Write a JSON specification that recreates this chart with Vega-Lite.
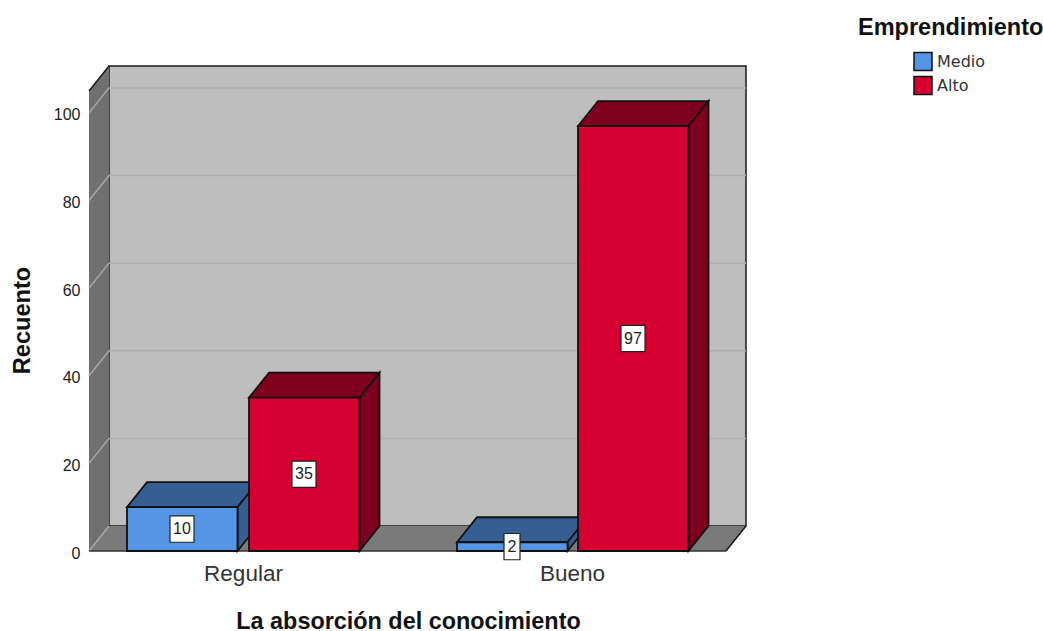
{
  "$schema": "https://vega.github.io/schema/vega-lite/v6.json",
  "width": 657, "height": 485,
  "autosize": {"type": "none"},
  "padding": {"left": 89, "top": 66, "right": 297, "bottom": 80},
  "background": "white",
  "datasets": {
    "barras": [
      {"categoria": "Regular", "serie": "Medio", "recuento": 10},
      {"categoria": "Regular", "serie": "Alto", "recuento": 35},
      {"categoria": "Bueno", "serie": "Medio", "recuento": 2},
      {"categoria": "Bueno", "serie": "Alto", "recuento": 97}
    ],
    "marcas": [{"marca": 0}, {"marca": 20}, {"marca": 40}, {"marca": 60}, {"marca": 80}, {"marca": 100}],
    "pared": [{"elemento": "fondo"}],
    "lateral": [{"v": 0}, {"v": 1}],
    "piso": [{"v": 0}, {"v": 1}, {"v": 2}, {"v": 3}]
  },
  "config": {"view": {"stroke": null}, "font": "Liberation Sans"},
  "resolve": {"scale": {"color": "independent"}, "axis": {"x": "independent", "y": "independent"}},
  "layer": [
    {
      "data": {"name": "pared"},
      "mark": {"type": "rect", "fill": "#BEBEBE", "stroke": "#1a1a1a", "strokeWidth": 1.5},
      "encoding": {
        "x": {"datum": 20, "type": "quantitative", "scale": {"domain": [0, 657], "nice": false, "zero": false},
          "axis": {"values": [154, 483], "labelExpr": "datum.value < 300 ? 'Regular' : 'Bueno'", "ticks": false, "domain": false, "grid": false,
            "labelFont": "Liberation Sans", "labelFontSize": 22.5, "labelColor": "#333333", "labelPadding": 11.5,
            "title": "La absorción del conocimiento", "titleFont": "Liberation Sans", "titleFontSize": 23.4, "titleFontWeight": "bold", "titleColor": "#111111",
            "titleX": 319, "titleY": 70, "titleBaseline": "middle", "titleAnchor": "middle", "titleAlign": "center"}},
        "x2": {"datum": 657},
        "y": {"datum": 5.7, "type": "quantitative", "scale": {"domain": [0, 110.7], "nice": false, "zero": false},
          "axis": {"values": [0, 20, 40, 60, 80, 100], "ticks": false, "domain": false, "grid": false,
            "labelFont": "Liberation Sans", "labelFontSize": 16, "labelColor": "#222222", "labelPadding": 9, "labelOffset": 2,
            "title": "Recuento", "titleFont": "Liberation Sans", "titleFontSize": 23.6, "titleFontWeight": "bold", "titleColor": "#111111",
            "titleX": -67, "titleY": 254, "titleBaseline": "middle", "titleAnchor": "middle", "titleAlign": "center"}},
        "y2": {"datum": 110.7}
      }
    },
    {
      "data": {"name": "lateral"},
      "transform": [
        {"calculate": "20 * datum.v", "as": "xp"},
        {"calculate": "5.7 * datum.v", "as": "lo"},
        {"calculate": "105.0 + 5.7 * datum.v", "as": "hi"}
      ],
      "mark": {"type": "area", "fill": "#707070", "orient": "vertical"},
      "encoding": {
        "x": {"field": "xp", "type": "quantitative", "axis": null},
        "y": {"field": "lo", "type": "quantitative", "axis": null},
        "y2": {"field": "hi"}
      }
    },
    {
      "data": {"name": "piso"},
      "transform": [
        {"calculate": "[0, 20, 637, 657][datum.v]", "as": "xp"},
        {"calculate": "[0, 0, 0, 5.7][datum.v]", "as": "lo"},
        {"calculate": "[0, 5.7, 5.7, 5.7][datum.v]", "as": "hi"}
      ],
      "mark": {"type": "area", "fill": "#7A7A7A", "orient": "vertical"},
      "encoding": {
        "x": {"field": "xp", "type": "quantitative", "axis": null},
        "y": {"field": "lo", "type": "quantitative", "axis": null},
        "y2": {"field": "hi"}
      }
    },
    {
      "data": {"name": "marcas"},
      "transform": [{"filter": "datum.marca > 0"}, {"calculate": "datum.marca + 5.7", "as": "atras"}],
      "mark": {"type": "rule", "stroke": "#AFAFAF", "strokeWidth": 1.5},
      "encoding": {
        "x": {"datum": 20, "type": "quantitative", "axis": null},
        "x2": {"datum": 657},
        "y": {"field": "atras", "type": "quantitative", "axis": null}
      }
    },
    {
      "data": {"name": "marcas"},
      "transform": [{"calculate": "datum.marca + 5.7", "as": "atras"}],
      "mark": {"type": "rule", "stroke": "#A8A8A8", "strokeWidth": 1.5},
      "encoding": {
        "x": {"datum": 0, "type": "quantitative", "axis": null},
        "x2": {"datum": 20},
        "y": {"field": "marca", "type": "quantitative", "axis": null},
        "y2": {"field": "atras"}
      }
    },
    {
      "data": {"name": "pared"},
      "mark": {"type": "rule", "stroke": "#1a1a1a", "strokeWidth": 1.5},
      "encoding": {
        "x": {"datum": 0, "type": "quantitative", "axis": null},
        "x2": {"datum": 20},
        "y": {"datum": 105.0, "type": "quantitative", "axis": null},
        "y2": {"datum": 110.7}
      }
    },
    {
      "data": {"name": "pared"},
      "mark": {"type": "rule", "stroke": "#333333", "strokeWidth": 1.5},
      "encoding": {
        "x": {"datum": 0, "type": "quantitative", "axis": null},
        "x2": {"datum": 637},
        "y": {"datum": 0, "type": "quantitative", "axis": null}
      }
    },
    {
      "data": {"name": "pared"},
      "mark": {"type": "rule", "stroke": "#1a1a1a", "strokeWidth": 1.5},
      "encoding": {
        "x": {"datum": 637, "type": "quantitative", "axis": null},
        "x2": {"datum": 657},
        "y": {"datum": 0, "type": "quantitative", "axis": null},
        "y2": {"datum": 5.7}
      }
    },
    {
      "data": {"name": "barras"},
      "transform": [
        {"calculate": "datum.categoria == 'Regular' ? (datum.serie == 'Medio' ? 38 : 160) : (datum.serie == 'Medio' ? 368 : 489)", "as": "x0"},
        {"calculate": "datum.categoria + datum.serie", "as": "clave"},
        {"calculate": "[0, 1, 2, 3]", "as": "v"},
        {"flatten": ["v"]},
        {"calculate": "[datum.x0, datum.x0 + 20, datum.x0 + 110.5, datum.x0 + 130.5][datum.v]", "as": "xp"},
        {"calculate": "[datum.recuento, datum.recuento, datum.recuento, datum.recuento + 5.7][datum.v]", "as": "lo"},
        {"calculate": "[datum.recuento, datum.recuento + 5.7, datum.recuento + 5.7, datum.recuento + 5.7][datum.v]", "as": "hi"}
      ],
      "mark": {"type": "area", "stroke": "#111111", "strokeWidth": 1.8, "orient": "vertical"},
      "encoding": {
        "x": {"field": "xp", "type": "quantitative", "axis": null},
        "y": {"field": "lo", "type": "quantitative", "axis": null},
        "y2": {"field": "hi"},
        "detail": {"field": "clave"},
        "color": {"field": "serie", "type": "nominal", "legend": null, "scale": {"domain": ["Medio", "Alto"], "range": ["#355F92", "#7F001E"]}}
      }
    },
    {
      "data": {"name": "barras"},
      "transform": [
        {"calculate": "datum.categoria == 'Regular' ? (datum.serie == 'Medio' ? 38 : 160) : (datum.serie == 'Medio' ? 368 : 489)", "as": "x0"},
        {"calculate": "datum.categoria + datum.serie", "as": "clave"},
        {"calculate": "[0, 1]", "as": "v"},
        {"flatten": ["v"]},
        {"calculate": "datum.x0 + 110.5 + 20 * datum.v", "as": "xp"},
        {"calculate": "5.7 * datum.v", "as": "lo"},
        {"calculate": "datum.recuento + 5.7 * datum.v", "as": "hi"}
      ],
      "mark": {"type": "area", "stroke": "#111111", "strokeWidth": 1.8, "orient": "vertical"},
      "encoding": {
        "x": {"field": "xp", "type": "quantitative", "axis": null},
        "y": {"field": "lo", "type": "quantitative", "axis": null},
        "y2": {"field": "hi"},
        "detail": {"field": "clave"},
        "color": {"field": "serie", "type": "nominal", "legend": null, "scale": {"domain": ["Medio", "Alto"], "range": ["#355F92", "#7F001E"]}}
      }
    },
    {
      "data": {"name": "barras"},
      "transform": [
        {"calculate": "datum.categoria == 'Regular' ? (datum.serie == 'Medio' ? 38 : 160) : (datum.serie == 'Medio' ? 368 : 489)", "as": "x0"},
        {"calculate": "datum.x0 + 110.5", "as": "x1"}
      ],
      "mark": {"type": "rect", "stroke": "#111111", "strokeWidth": 1.8},
      "encoding": {
        "x": {"field": "x0", "type": "quantitative", "axis": null},
        "x2": {"field": "x1"},
        "y": {"field": "recuento", "type": "quantitative", "axis": null},
        "y2": {"datum": 0},
        "color": {"field": "serie", "type": "nominal",
          "scale": {"domain": ["Medio", "Alto"], "range": ["#5495E6", "#D60030"]},
          "legend": {"orient": "none", "legendX": 769, "legendY": -50, "direction": "vertical",
            "title": "Emprendimiento", "titleLimit": 400, "titleFont": "Liberation Sans", "titleFontSize": 23.5, "titleFontWeight": "bold", "titleColor": "#111111", "titlePadding": 12,
            "labelFont": "DejaVu Sans", "labelFontSize": 16, "labelColor": "#333333", "labelOffset": 4,
            "symbolType": "square", "symbolSize": 324, "symbolStrokeColor": "#111111", "symbolStrokeWidth": 1.5, "symbolOpacity": 1, "symbolOffset": 55, "rowPadding": 0, "columnPadding": 0}}
      }
    },
    {
      "data": {"name": "barras"},
      "transform": [
        {"calculate": "(datum.categoria == 'Regular' ? (datum.serie == 'Medio' ? 38 : 160) : (datum.serie == 'Medio' ? 368 : 489)) + 55", "as": "xc"},
        {"calculate": "datum.recuento < 10 ? 8 : 12", "as": "mitad"},
        {"calculate": "datum.xc - datum.mitad", "as": "xa"},
        {"calculate": "datum.xc + datum.mitad", "as": "xb"},
        {"calculate": "datum.recuento / 2 - 3", "as": "ya"},
        {"calculate": "datum.recuento / 2 + 3", "as": "yb"}
      ],
      "mark": {"type": "rect", "fill": "white", "stroke": "#222222", "strokeWidth": 1.2},
      "encoding": {
        "x": {"field": "xa", "type": "quantitative", "axis": null},
        "x2": {"field": "xb"},
        "y": {"field": "ya", "type": "quantitative", "axis": null},
        "y2": {"field": "yb"}
      }
    },
    {
      "data": {"name": "barras"},
      "transform": [
        {"calculate": "(datum.categoria == 'Regular' ? (datum.serie == 'Medio' ? 38 : 160) : (datum.serie == 'Medio' ? 368 : 489)) + 55", "as": "xc"},
        {"calculate": "datum.recuento / 2", "as": "yc"}
      ],
      "mark": {"type": "text", "font": "Liberation Sans", "fontSize": 16, "color": "#222222", "align": "center", "baseline": "middle"},
      "encoding": {
        "x": {"field": "xc", "type": "quantitative", "axis": null},
        "y": {"field": "yc", "type": "quantitative", "axis": null},
        "text": {"field": "recuento", "type": "quantitative"}
      }
    }
  ]
}
